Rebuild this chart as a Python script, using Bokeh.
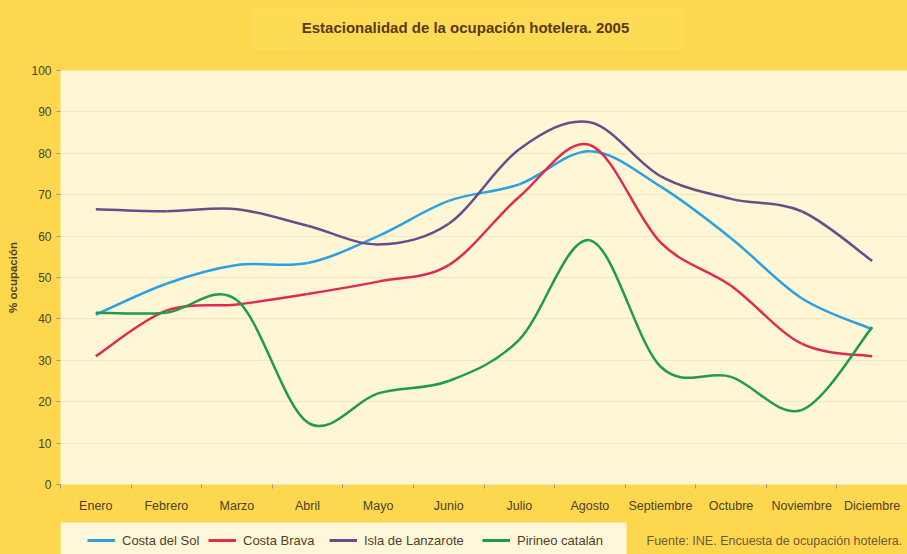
from bokeh.plotting import figure
from bokeh.layouts import column
from bokeh.models import Range1d, FixedTicker, Label, Legend, LegendItem, BoxAnnotation
from bokeh.embed import file_html
from bokeh.resources import INLINE

months = ["Enero", "Febrero", "Marzo", "Abril", "Mayo", "Junio", "Julio",
          "Agosto", "Septiembre", "Octubre", "Noviembre", "Diciembre"]
costa_del_sol = [41, 48.5, 53, 53.5, 60, 68.5, 72.5, 80.5, 72, 59.5, 45, 37.5]
costa_brava = [31, 42, 43.5, 46, 49, 53, 69.5, 82, 58.5, 48, 34, 31]
isla_lanzarote = [66.5, 66, 66.5, 62.5, 58, 63, 81, 87.5, 74.5, 69, 66, 54]
pirineo_catalan = [41.5, 41.5, 44.5, 15, 22, 25, 35, 59, 28.5, 26, 18, 38]
y_ticks = [0, 10, 20, 30, 40, 50, 60, 70, 80, 90, 100]

series = [
    ("Costa del Sol", costa_del_sol, "#2AA2E2"),
    ("Costa Brava", costa_brava, "#E02A52"),
    ("Isla de Lanzarote", isla_lanzarote, "#6A4C8A"),
    ("Pirineo catalán", pirineo_catalan, "#1F9B4A"),
]

FONT = "Liberation Sans"
TXT = "#4E3F28"
YELLOW = "#FDD84E"
CREAM = "#FFF6D6"
W = 907
LEFT = 60
FRAME_W = W - LEFT
BG_STYLE = {"background-color": YELLOW}


def band(height):
    f = figure(width=W, height=height, output_backend="svg", toolbar_location=None,
               x_range=Range1d(0, FRAME_W), y_range=Range1d(0, height),
               x_axis_type=None, y_axis_type=None,
               min_border_left=LEFT, min_border_right=0,
               min_border_top=0, min_border_bottom=0, styles=BG_STYLE)
    f.background_fill_color = YELLOW
    f.border_fill_color = YELLOW
    f.outline_line_color = None
    return f


# ---- title band ----
top = band(55)
top.add_layout(BoxAnnotation(left=192, right=622, bottom=7, top=47,
                             fill_color="#FEDB55", fill_alpha=1.0,
                             line_color="#FCE37A", line_width=1, level="underlay"))
top.add_layout(Label(x=405, y=28, text="Estacionalidad de la ocupación hotelera. 2005",
                     text_align="center", text_baseline="middle",
                     text_font=FONT, text_font_style="bold",
                     text_font_size="15px", text_color="#5A3818"))

# ---- main chart ----
p = figure(width=W, height=460, output_backend="svg", toolbar_location=None,
           x_range=Range1d(-0.5, 11.5), y_range=Range1d(0, 100),
           min_border_left=LEFT, min_border_right=0, min_border_top=15,
           min_border_bottom=30, styles=BG_STYLE)
p.background_fill_color = CREAM
p.border_fill_color = YELLOW
p.outline_line_color = None

p.xaxis.ticker = FixedTicker(ticks=list(range(len(months))),
                             minor_ticks=[i + 0.5 for i in range(-1, len(months))])
p.xaxis.major_label_overrides = {i: m for i, m in enumerate(months)}
p.xaxis.major_tick_out = 0
p.xaxis.major_tick_in = 0
p.xaxis.minor_tick_out = 4
p.xaxis.minor_tick_in = 0
p.xaxis.minor_tick_line_color = "#A89870"
p.xaxis.axis_line_color = None
p.xaxis.major_label_standoff = 10
p.yaxis.ticker = FixedTicker(ticks=y_ticks)
p.yaxis.major_tick_out = 4
p.yaxis.major_tick_in = 0
p.yaxis.major_tick_line_color = "#A89870"
p.yaxis.minor_tick_line_color = None
p.yaxis.axis_line_color = None
p.yaxis.major_label_standoff = 5
for ax in (p.xaxis, p.yaxis):
    ax.major_label_text_font = FONT
    ax.major_label_text_color = TXT
p.xaxis.major_label_text_font_size = "12.5px"
p.yaxis.major_label_text_font_size = "12px"
p.yaxis.axis_label = "% ocupación"
p.yaxis.axis_label_text_font = FONT
p.yaxis.axis_label_text_font_style = "bold"
p.yaxis.axis_label_text_font_size = "11.5px"
p.yaxis.axis_label_text_color = TXT
p.yaxis.axis_label_standoff = 9
p.xgrid.visible = False
p.ygrid.grid_line_color = "#F2E6C2"
p.ygrid.grid_line_width = 1


def smooth(vals):
    n = len(vals)
    xs = list(range(n))
    out = {k: [] for k in ("x0", "y0", "x1", "y1", "cx0", "cy0", "cx1", "cy1")}
    for i in range(n - 1):
        xa, ya = xs[i], vals[i]
        xb, yb = xs[i + 1], vals[i + 1]
        xp, yp = (xs[i - 1], vals[i - 1]) if i > 0 else (xa, ya)
        xn, yn = (xs[i + 2], vals[i + 2]) if i + 2 < n else (xb, yb)
        out["x0"].append(xa); out["y0"].append(ya)
        out["x1"].append(xb); out["y1"].append(yb)
        out["cx0"].append(xa + (xb - xp) / 6.0); out["cy0"].append(ya + (yb - yp) / 6.0)
        out["cx1"].append(xb - (xn - xa) / 6.0); out["cy1"].append(yb - (yn - ya) / 6.0)
    return out


for name, vals, color in series:
    d = smooth(vals)
    p.bezier(line_color=color, line_width=2.5, **d)

# ---- bottom band: legend + source ----
bot = band(39)
bot.add_layout(BoxAnnotation(left=0, right=566, bottom=-10, top=32,
                             fill_color="#FFF7DA", fill_alpha=1.0,
                             line_color=None, level="underlay"))
legend_x = [27, 148, 269, 422]
for (name, vals, color), lx in zip(series, legend_x):
    r = bot.line(x=list(range(len(months))), y=vals, line_color=color,
                 line_width=3, visible=False)
    lg = Legend(items=[LegendItem(label=name, renderers=[r])],
                location=(lx, 6), orientation="horizontal",
                background_fill_alpha=0, border_line_color=None,
                label_text_font=FONT, label_text_font_size="13px",
                label_text_color=TXT, glyph_width=28, glyph_height=16,
                label_height=16, label_standoff=7, padding=0, margin=0)
    bot.add_layout(lg)

bot.add_layout(Label(x=586, y=14, text="Fuente: INE. Encuesta de ocupación hotelera.",
                     text_align="left", text_baseline="middle",
                     text_font=FONT, text_font_size="12.5px", text_color="#6A5A3C"))

layout = column(top, p, bot, spacing=0, styles=BG_STYLE)
open("out.html", "w").write(file_html(layout, INLINE))
